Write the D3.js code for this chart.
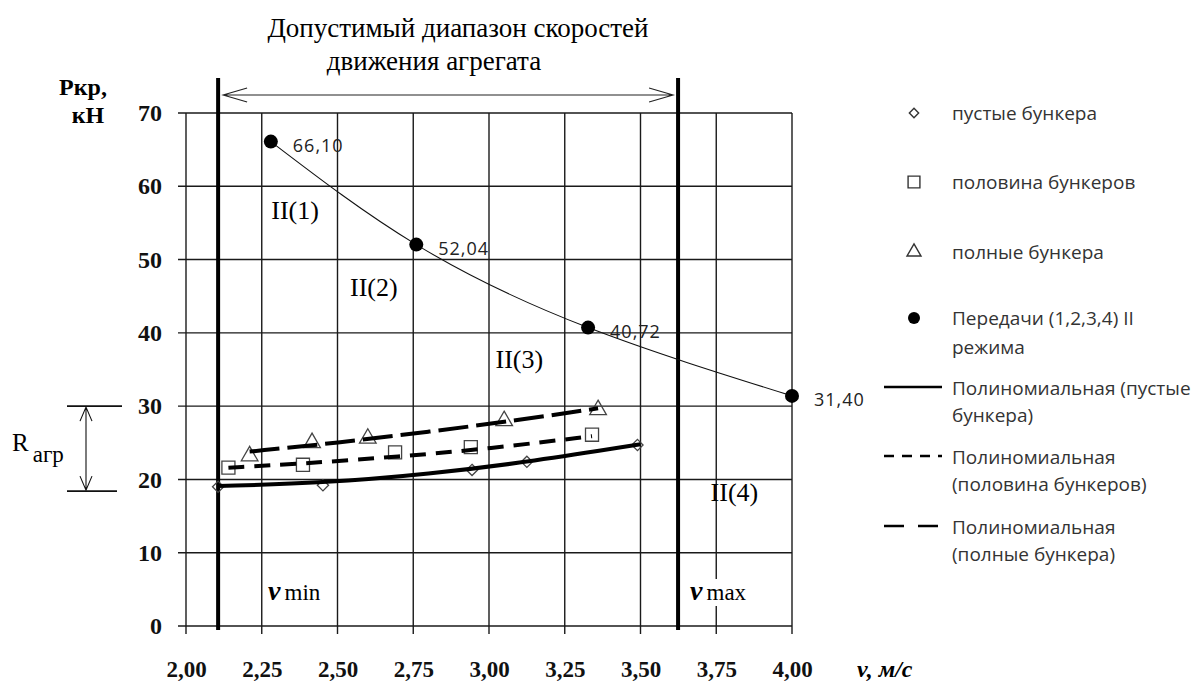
<!DOCTYPE html>
<html lang="ru">
<head>
<meta charset="utf-8">
<script src="https://d3js.org/d3.v7.min.js"></script>
<style>
  body { margin: 0; background: #fff; }
  .serif { font-family: "Liberation Serif", "Times New Roman", serif; }
  .sans { font-family: "Open Sans", "Liberation Sans", sans-serif; }
  .grid line { stroke: #1a1a1a; stroke-width: 1.4px; }
</style>
</head>
<body>
<svg width="1200" height="685"></svg>
<script>
// speeds, m/s and traction, kN
var emptyV = [2.106, 2.452, 2.944, 3.125, 3.49];
var emptyP = [19.0, 19.2, 21.3, 22.4, 24.7];
var halfV = [2.14, 2.386, 2.69, 2.94, 3.34];
var halfP = [21.6, 22.0, 23.7, 24.4, 26.1];
var fullV = [2.21, 2.416, 2.60, 3.05, 3.36];
var fullP = [23.2, 25.0, 25.6, 28.0, 29.5];
var gearV = [2.28, 2.76, 3.327, 4.00];
var gearP = [66.10, 52.04, 40.72, 31.40];
var gearLabels = ["66,10", "52,04", "40,72", "31,40"];

// polynomial trend lines
var trendEmptyV = [2.106, 2.45, 2.80, 3.15, 3.50];
var trendEmptyP = [19.1, 19.5, 20.7, 22.5, 24.8];
var trendHalfV = [2.14, 2.40, 2.70, 3.00, 3.34];
var trendHalfP = [21.6, 22.2, 23.1, 24.2, 25.9];
var trendFullV = [2.21, 2.50, 2.80, 3.10, 3.36];
var trendFullP = [23.8, 25.0, 26.5, 28.1, 29.7];

var vLimits = [2.106, 3.624];   // v min, v max
var rRange = [18.4, 30];        // R агр
var regions = [
  {t: "II(1)", v: 2.36, p: 56.8},
  {t: "II(2)", v: 2.62, p: 46.3},
  {t: "II(3)", v: 3.10, p: 36.4},
  {t: "II(4)", v: 3.81, p: 18.3}
];
var xTicks = [2.00, 2.25, 2.50, 2.75, 3.00, 3.25, 3.50, 3.75, 4.00];
var yTicks = [0, 10, 20, 30, 40, 50, 60, 70];

var svg = d3.select("svg");
svg.append("rect").attr("width", 1200).attr("height", 685).attr("fill", "#fff");

var x = d3.scaleLinear().domain([2, 4]).range([186, 792]);
var y = d3.scaleLinear().domain([0, 70]).range([626, 113]);

// grid
var grid = svg.append("g").attr("class", "grid");
grid.selectAll(".h").data(yTicks).enter().append("line")
  .attr("x1", x(2) - 8).attr("x2", x(4))
  .attr("y1", function(d) { return y(d); }).attr("y2", function(d) { return y(d); });
grid.selectAll(".v").data(xTicks).enter().append("line")
  .attr("y1", y(70)).attr("y2", y(0) + 8)
  .attr("x1", function(d) { return x(d); }).attr("x2", function(d) { return x(d); });

// axes labels via d3 axes (lines hidden)
var ax = svg.append("g").attr("transform", "translate(0," + y(0) + ")")
  .call(d3.axisBottom(x).tickValues(xTicks).tickSize(0).tickPadding(51)
    .tickFormat(function(d) { return d.toFixed(2).replace(".", ","); }));
ax.select(".domain").remove();
ax.selectAll("text").attr("class", "serif").style("font-size", "23px").style("font-weight", "bold")
  .attr("fill", "#111").attr("dy", "0");

var ay = svg.append("g").attr("transform", "translate(" + x(2) + ",0)")
  .call(d3.axisLeft(y).tickValues(yTicks).tickSize(0).tickPadding(24));
ay.select(".domain").remove();
ay.selectAll("text").attr("class", "serif").style("font-size", "24px").style("font-weight", "bold")
  .attr("fill", "#111");

// axis titles
svg.append("text").attr("class", "serif").attr("x", 83).attr("y", 95).attr("text-anchor", "middle")
  .style("font-size", "24px").style("font-weight", "bold").text("Pкр,");
svg.append("text").attr("class", "serif").attr("x", 88).attr("y", 123).attr("text-anchor", "middle")
  .style("font-size", "24px").style("font-weight", "bold").text("кН");
svg.append("text").attr("class", "serif").attr("x", 857).attr("y", 677)
  .style("font-size", "24px").style("font-weight", "bold").style("font-style", "italic").text("v, м/с");

// title
svg.append("text").attr("class", "serif").attr("x", 458).attr("y", 37).attr("text-anchor", "middle")
  .style("font-size", "27px").text("Допустимый диапазон скоростей");
svg.append("text").attr("class", "serif").attr("x", 434).attr("y", 70).attr("text-anchor", "middle")
  .style("font-size", "27px").text("движения агрегата");

// v min / v max bars and double arrow
svg.selectAll(".lim").data(vLimits).enter().append("line")
  .attr("x1", function(d) { return x(d); }).attr("x2", function(d) { return x(d); })
  .attr("y1", 78).attr("y2", y(0) + 4)
  .attr("stroke", "#000").attr("stroke-width", 4);
var ay0 = 95, a0 = x(vLimits[0]) + 5, a1 = x(vLimits[1]) - 5;
svg.append("path").attr("fill", "none").attr("stroke", "#222").attr("stroke-width", 1.1)
  .attr("d", "M" + a0 + "," + ay0 + "H" + a1 +
    "M" + (a0 + 24) + "," + (ay0 - 7) + "L" + a0 + "," + ay0 + "L" + (a0 + 24) + "," + (ay0 + 7) +
    "M" + (a1 - 24) + "," + (ay0 - 7) + "L" + a1 + "," + ay0 + "L" + (a1 - 24) + "," + (ay0 + 7));

function sub(xp, yp, main, small) {
  var g = svg.append("g");
  var bg = g.append("rect").attr("fill", "#fff");
  var t = g.append("text").attr("class", "serif").attr("x", xp).attr("y", yp);
  t.append("tspan").style("font-size", "28px").style("font-weight", "bold").style("font-style", "italic").text(main);
  t.append("tspan").attr("dx", 4).style("font-size", "23px").text(small);
  var b = t.node().getBBox();
  bg.attr("x", b.x - 2).attr("y", b.y + 4).attr("width", b.width + 6).attr("height", b.height - 4);
}
sub(x(vLimits[0]) + 50, 600, "v", "min");
sub(x(vLimits[1]) + 12, 600, "v", "max");

// R агр bracket
var rb = svg.append("g").attr("stroke", "#111").attr("fill", "none");
rb.append("line").attr("x1", 67).attr("x2", 122).attr("y1", y(rRange[1])).attr("y2", y(rRange[1])).attr("stroke-width", 1.6);
rb.append("line").attr("x1", 67).attr("x2", 117).attr("y1", y(rRange[0])).attr("y2", y(rRange[0])).attr("stroke-width", 1.6);
rb.append("path").attr("stroke-width", 1.1)
  .attr("d", "M86," + (y(rRange[1]) + 1) + "V" + (y(rRange[0]) - 1) +
    "M80," + (y(rRange[1]) + 15) + "L86," + (y(rRange[1]) + 1) + "L92," + (y(rRange[1]) + 15) +
    "M80," + (y(rRange[0]) - 15) + "L86," + (y(rRange[0]) - 1) + "L92," + (y(rRange[0]) - 15));
var rt = svg.append("text").attr("class", "serif").attr("x", 12).attr("y", 451).style("font-size", "25px");
rt.append("tspan").text("R");
rt.append("tspan").attr("dx", 4).attr("dy", 11).style("font-size", "23px").text("агр");

// region labels
svg.selectAll(".reg").data(regions).enter().append("text").attr("class", "serif")
  .attr("x", function(d) { return x(d.v); }).attr("y", function(d) { return y(d.p); })
  .attr("text-anchor", "middle").attr("dy", "0.35em").style("font-size", "26px").text(function(d) { return d.t; });

// gear curve and points
var gears = gearV.map(function(v, i) { return [v, gearP[i]]; });
svg.append("path").datum(gears).attr("fill", "none").attr("stroke", "#111").attr("stroke-width", 1.1)
  .attr("d", d3.line().x(function(d) { return x(d[0]); }).y(function(d) { return y(d[1]); }).curve(d3.curveNatural));
svg.selectAll(".gear").data(gears).enter().append("circle")
  .attr("cx", function(d) { return x(d[0]); }).attr("cy", function(d) { return y(d[1]); })
  .attr("r", 7).attr("fill", "#000");
svg.selectAll(".glab").data(gears).enter().append("text").attr("class", "sans")
  .attr("x", function(d) { return x(d[0]) + 22; }).attr("y", function(d) { return y(d[1]) + 10; })
  .style("font-size", "18px").style("letter-spacing", "1px").attr("fill", "#222")
  .text(function(d, i) { return gearLabels[i]; });

// markers
function pts(vs, ps) { return vs.map(function(v, i) { return [v, ps[i]]; }); }
function markers(data, type, size) {
  svg.append("g").selectAll("path").data(data).enter().append("path")
    .attr("transform", function(d) { return "translate(" + x(d[0]) + "," + y(d[1]) + ")"; })
    .attr("d", d3.symbol().type(type).size(size))
    .attr("fill", "none").attr("stroke", "#444").attr("stroke-width", 1.3);
}
markers(pts(emptyV, emptyP), d3.symbolDiamond2, 80);
markers(pts(halfV, halfP), d3.symbolSquare, 170);
markers(pts(fullV, fullP), d3.symbolTriangle, 120);

// trend lines
var tl = d3.line().x(function(d) { return x(d[0]); }).y(function(d) { return y(d[1]); }).curve(d3.curveBasis);
var trends = [
  {d: pts(trendEmptyV, trendEmptyP), dash: null},
  {d: pts(trendHalfV, trendHalfP), dash: "16,10"},
  {d: pts(trendFullV, trendFullP), dash: "30,8"}
];
trends.forEach(function(t) {
  svg.append("path").datum(t.d).attr("d", tl).attr("fill", "none").attr("stroke", "#000")
    .attr("stroke-width", 4).attr("stroke-dasharray", t.dash);
});

// legend
var lg = svg.append("g").attr("class", "sans").style("font-size", "19px").attr("fill", "#333");
var mk = [
  {y: 113, type: d3.symbolDiamond2, size: 55, lines: ["пустые бункера"]},
  {y: 182, type: d3.symbolSquare, size: 140, lines: ["половина бункеров"]},
  {y: 252, type: d3.symbolTriangle, size: 85, lines: ["полные бункера"]},
  {y: 318, type: null, lines: ["Передачи (1,2,3,4) II", "режима"]}
];
mk.forEach(function(m) {
  if (m.type) {
    lg.append("path").attr("transform", "translate(914," + m.y + ")")
      .attr("d", d3.symbol().type(m.type).size(m.size)).attr("fill", "none").attr("stroke", "#333").attr("stroke-width", 1.4);
  } else {
    lg.append("circle").attr("cx", 914).attr("cy", m.y).attr("r", 6).attr("fill", "#000");
  }
  m.lines.forEach(function(s, i) {
    lg.append("text").attr("x", 952).attr("y", m.y + 7 + i * 29).text(s);
  });
});
var ll = [
  {y: 387, dash: null, lines: ["Полиномиальная (пустые", "бункера)"]},
  {y: 456, dash: "10,8", lines: ["Полиномиальная", "(половина бункеров)"]},
  {y: 526, dash: "20,14", lines: ["Полиномиальная", "(полные бункера)"]}
];
ll.forEach(function(m) {
  lg.append("line").attr("x1", 884).attr("x2", 942).attr("y1", m.y).attr("y2", m.y)
    .attr("stroke", "#000").attr("stroke-width", 2.5).attr("stroke-dasharray", m.dash);
  m.lines.forEach(function(s, i) {
    lg.append("text").attr("x", 952).attr("y", m.y + 8 + i * 27).text(s);
  });
});
</script>
</body>
</html>
